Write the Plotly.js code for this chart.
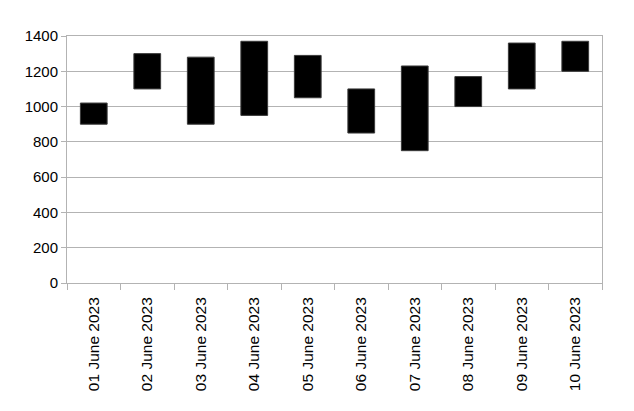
<!DOCTYPE html>
<html>
<head>
<meta charset="utf-8">
<script src="https://cdn.plot.ly/plotly-3.0.1.min.js"></script>
<style>html,body{margin:0;padding:0;background:#fff;}#chart{width:634px;height:411px;}</style>
</head>
<body>
<div id="chart"></div>
<script>
const categories = ["01 June 2023","02 June 2023","03 June 2023","04 June 2023","05 June 2023","06 June 2023","07 June 2023","08 June 2023","09 June 2023","10 June 2023"];
const lowValues  = [900, 1100, 900, 950, 1050, 850, 750, 1000, 1100, 1200];
const highValues = [1020, 1300, 1280, 1370, 1290, 1100, 1230, 1170, 1360, 1370];
const yTicks = [0, 200, 400, 600, 800, 1000, 1200, 1400];

const heights = highValues.map((h, i) => h - lowValues[i]);

const trace = {
  type: "bar",
  x: categories,
  y: heights,
  base: lowValues,
  width: 0.5,
  marker: {color: "#000000", line: {color: "#3a3a3a", width: 1}},
  hoverinfo: "skip"
};

const layout = {
  width: 634, height: 411,
  margin: {l: 67, r: 32, t: 36, b: 128},
  paper_bgcolor: "#ffffff", plot_bgcolor: "#ffffff",
  font: {family: "Liberation Sans, Arial, sans-serif", size: 15, color: "#000000"},
  showlegend: false,
  bargap: 0.5,
  xaxis: {
    type: "category",
    tickangle: -90,
    ticks: "outside", ticklen: 6, tickcolor: "#b3b3b3", tickwidth: 1,
    tickson: "boundaries",
    ticklabelstandoff: 7,
    showline: true, linecolor: "#b3b3b3", linewidth: 1, mirror: true,
    showgrid: false,
    tickfont: {size: 15.5}
  },
  yaxis: {
    range: [0, 1400],
    tickvals: yTicks,
    ticks: "outside", ticklen: 5, tickcolor: "#b3b3b3", tickwidth: 1,
    showline: true, linecolor: "#b3b3b3", linewidth: 1, mirror: true,
    showgrid: true, gridcolor: "#b3b3b3", gridwidth: 1,
    zeroline: false,
    tickfont: {size: 15}
  }
};

Plotly.newPlot("chart", [trace], layout, {staticPlot: true, displayModeBar: false});
</script>
</body>
</html>
